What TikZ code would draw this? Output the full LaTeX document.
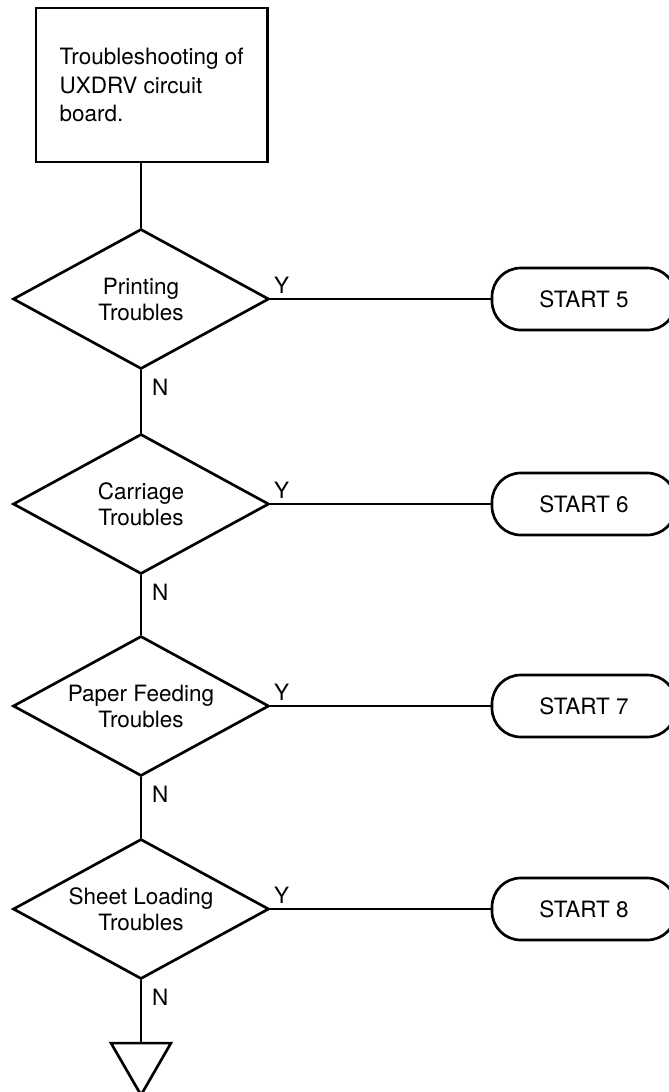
\documentclass[tikz,border=0pt]{standalone}
\usepackage{fontspec}
\setmainfont{TeX Gyre Heros}
\usetikzlibrary{positioning,shapes.geometric}

\begin{document}
\begin{tikzpicture}[
  titlebox/.style={draw,line width=1.9pt,minimum width=5.78cm,minimum height=3.85cm,align=left,font=\fontsize{16}{20.5}\selectfont},
  decision/.style={draw,line width=1.9pt,diamond,aspect=1.8,inner sep=0pt,minimum width=6.4cm,minimum height=3.5cm,align=center,font=\fontsize{16}{18.5}\selectfont},
  terminal/.style={draw,line width=1.9pt,rounded corners=0.72cm,minimum width=4.6cm,minimum height=1.55cm,font=\fontsize{16}{18.5}\selectfont},
  offpage/.style={draw,line width=1.9pt,regular polygon,regular polygon sides=3,shape border rotate=180,minimum size=1.73cm,inner sep=0pt},
  yn/.style={font=\fontsize{16}{18.5}\selectfont,inner sep=2pt},
  line/.style={line width=1.5pt}
]
\useasboundingbox (0,0) rectangle (16.725,-27.3);

\node[titlebox] (title) at (3.79,-2.125) {Troubleshooting of\\UXDRV circuit\\board.};
\node[decision] (print) at (3.525,-7.475) {Printing\\Troubles};
\node[decision] (carriage) at (3.525,-12.6) {Carriage\\Troubles};
\node[decision] (feed) at (3.525,-17.65) {Paper Feeding\\Troubles};
\node[decision] (sheet) at (3.525,-22.725) {Sheet Loading\\Troubles};
\node[terminal] (start5) at (14.6,-7.475) {START 5};
\node[terminal] (start6) at (14.6,-12.6) {START 6};
\node[terminal] (start7) at (14.6,-17.65) {START 7};
\node[terminal] (start8) at (14.6,-22.725) {START 8};
\node[offpage] (offpage) at (3.525,-26.51) {};

% main column, N exits
\draw[line] (title.south -| print.north) -- (print.north);
\draw[line] (print.south) -- node[pos=0,anchor=north west,yn,xshift=0.18cm,yshift=-0.13cm] (printN) {N} (carriage.north);
\draw[line] (carriage.south) -- node[pos=0,anchor=north west,yn,xshift=0.18cm,yshift=-0.13cm] (carriageN) {N} (feed.north);
\draw[line] (feed.south) -- node[pos=0,anchor=north west,yn,xshift=0.18cm,yshift=-0.13cm] (feedN) {N} (sheet.north);
\draw[line] (sheet.south) -- node[pos=0,anchor=north west,yn,xshift=0.18cm,yshift=-0.13cm] (sheetN) {N} (offpage);

% Y exits
\draw[line] (print.east) -- node[pos=0,anchor=south west,yn,yshift=0.05cm] (printY) {Y} (start5.west);
\draw[line] (carriage.east) -- node[pos=0,anchor=south west,yn,yshift=0.05cm] (carriageY) {Y} (start6.west);
\draw[line] (feed.east) -- node[pos=0,anchor=south west,yn,yshift=0.05cm] (feedY) {Y} (start7.west);
\draw[line] (sheet.east) -- node[pos=0,anchor=south west,yn,yshift=0.05cm] (sheetY) {Y} (start8.west);
\end{tikzpicture}
\end{document}
